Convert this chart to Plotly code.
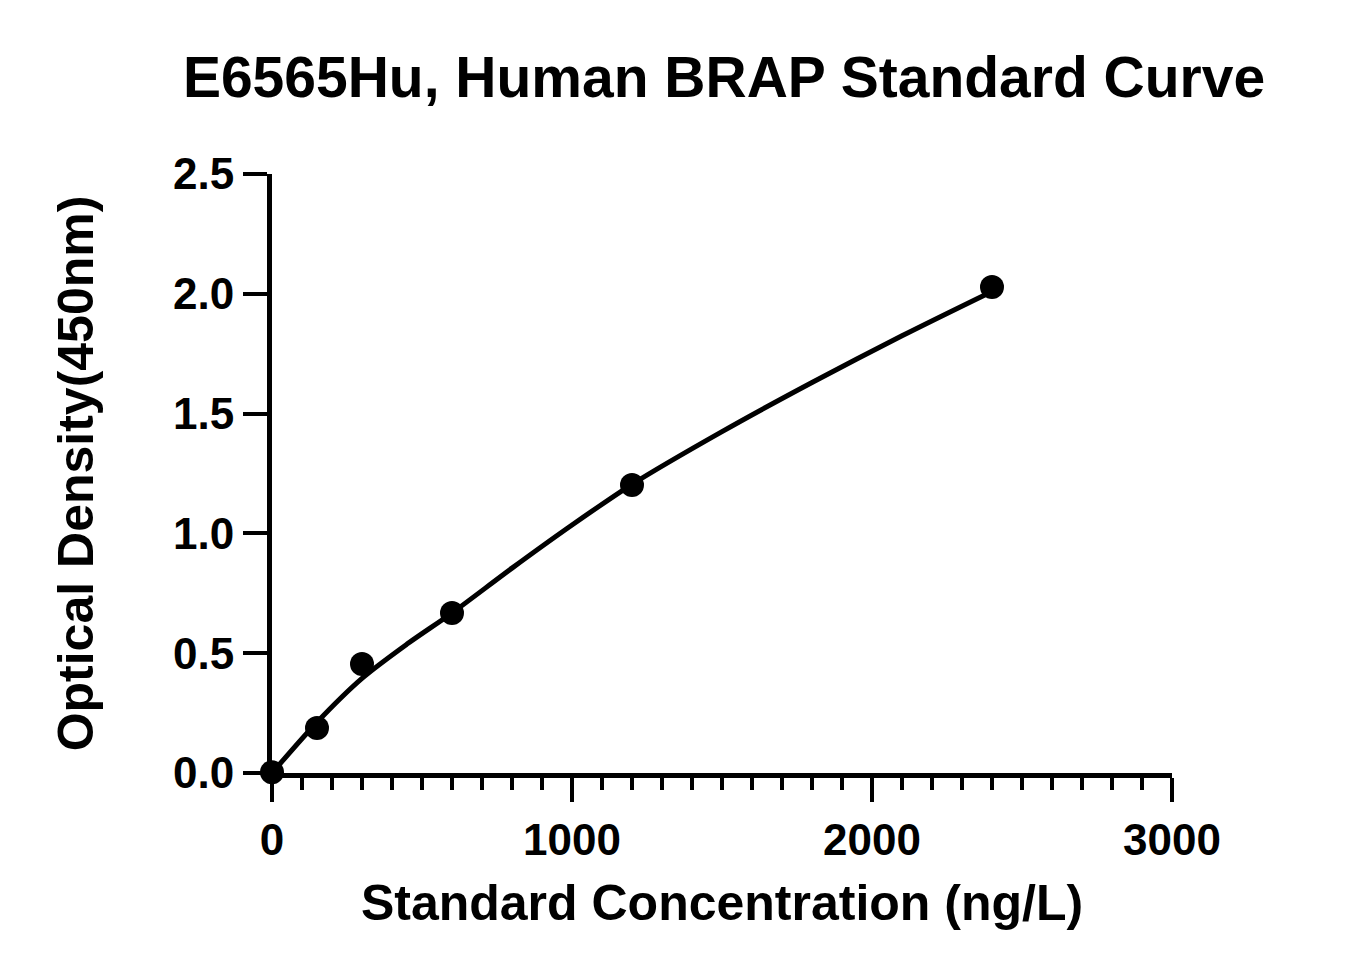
import plotly.graph_objects as go

# standard points (ng/L vs OD450)
concentration = [0, 150, 300, 600, 1200, 2400]
od_values = [0.003, 0.188, 0.455, 0.668, 1.202, 2.028]

# fitted curve
curve_x = [0, 150, 300, 450, 600, 800, 1000, 1200, 1500, 1800, 2100, 2400]
curve_y = [0.0, 0.212, 0.395, 0.538, 0.668, 0.855, 1.035, 1.205, 1.425, 1.63, 1.825, 2.01]

x_ticks = [0, 1000, 2000, 3000]
y_ticks = [0.0, 0.5, 1.0, 1.5, 2.0, 2.5]

font_family = "Liberation Sans, Arial, sans-serif"

fig = go.Figure()

# fitted line
fig.add_trace(go.Scatter(
    x=curve_x, y=curve_y, mode='lines',
    line=dict(color='black', width=5, shape='spline', smoothing=0.8),
    cliponaxis=False, showlegend=False
))

# measured standards
fig.add_trace(go.Scatter(
    x=concentration, y=od_values, mode='markers',
    marker=dict(color='black', size=24),
    cliponaxis=False, showlegend=False
))

# page body has an 8px margin, so the figure is drawn 8px smaller
fig.update_layout(
    width=1339, height=967,
    paper_bgcolor='white', plot_bgcolor='white',
    margin=dict(l=264, r=175, t=166, b=202),
    font=dict(family=font_family, color='black'),
    title=dict(
        text='<b>E6565Hu, Human BRAP Standard Curve</b>',
        font=dict(size=57, family=font_family, color='black'),
        x=716 / 1339, xanchor='center', xref='container',
        y=1 - 69 / 967, yanchor='middle', yref='container'
    ),
    xaxis=dict(
        range=[0, 3000],
        tickvals=x_ticks,
        ticktext=[f'<b>{v}</b>' for v in x_ticks],
        tickfont=dict(size=44),
        ticks='outside', ticklen=24, tickwidth=4, tickcolor='black',
        minor=dict(dtick=100, ticks='outside', ticklen=12, tickwidth=4, tickcolor='black'),
        showline=True, linewidth=5, linecolor='black',
        showgrid=False, zeroline=False,
        title=dict(text='<b>Standard Concentration (ng/L)</b>', font=dict(size=50), standoff=24),
    ),
    yaxis=dict(
        range=[0, 2.5],
        tickvals=y_ticks,
        ticktext=[f'<b>{v:.1f}</b>' for v in y_ticks],
        tickfont=dict(size=44),
        ticks='outside', ticklen=24, tickwidth=4, tickcolor='black',
        showline=True, linewidth=5, linecolor='black',
        showgrid=False, zeroline=False,
        title=dict(text='<b>Optical Density(450nm)</b>', font=dict(size=50), standoff=65),
    ),
)

fig.write_html("out.html")
